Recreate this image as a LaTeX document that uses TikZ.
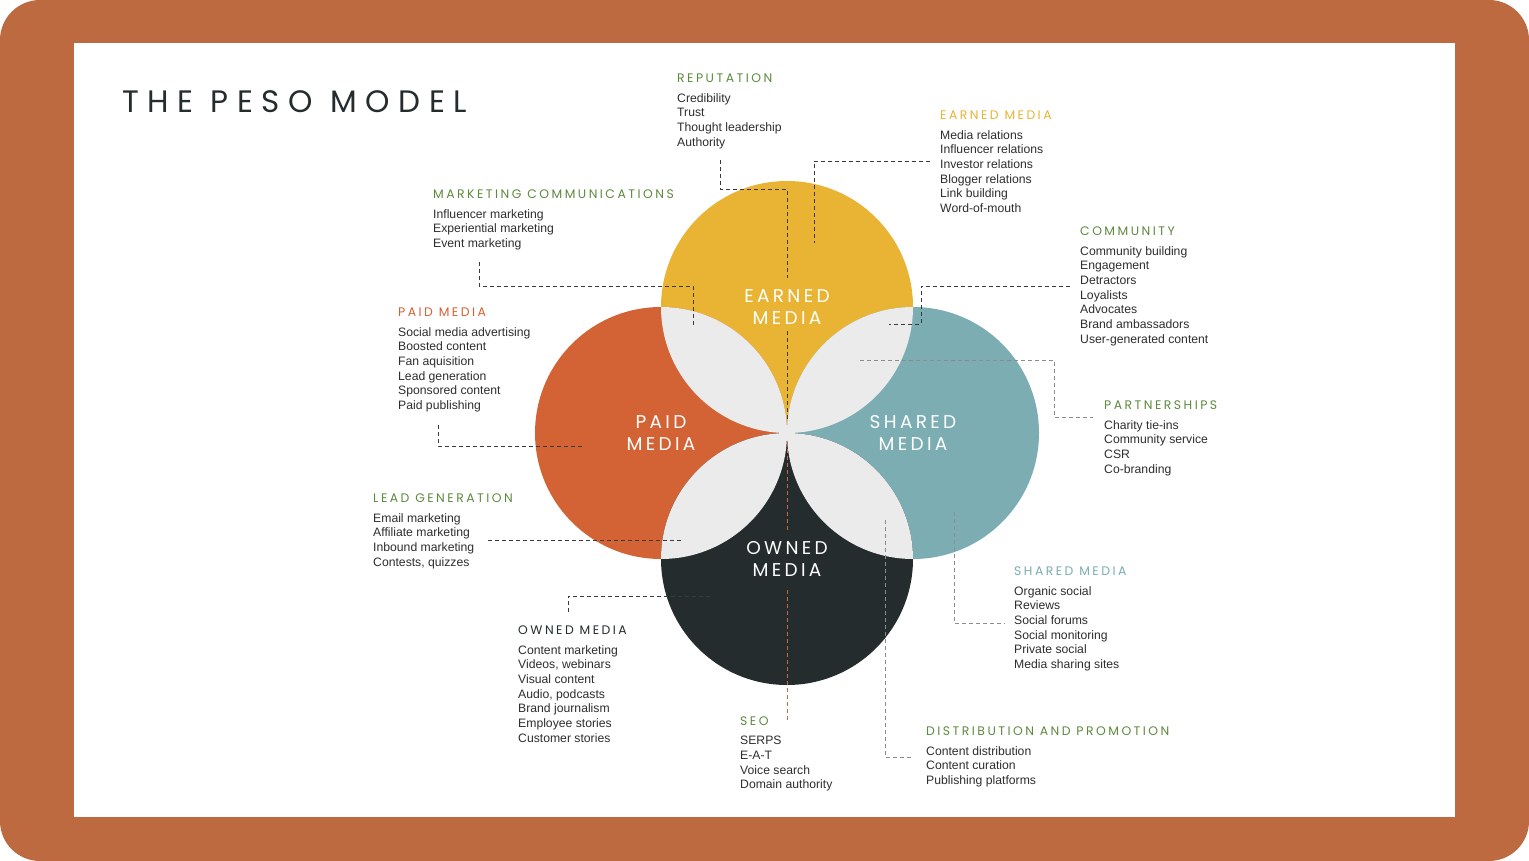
\documentclass[tikz,border=0pt]{standalone}
\usepackage{fontspec}
\setmainfont{Liberation Sans}
\newfontfamily\headfont[LetterSpace=20]{Poppins}
\newfontfamily\titlefont[LetterSpace=28]{Poppins}
\newfontfamily\labfont[LetterSpace=18]{Poppins}
\definecolor{frame}{HTML}{BD6A40}
\definecolor{earned}{HTML}{E9B334}
\definecolor{paid}{HTML}{D36234}
\definecolor{shared}{HTML}{7BADB3}
\definecolor{owned}{HTML}{252C2D}
\definecolor{lens}{HTML}{EBEBEB}
\definecolor{hgreen}{HTML}{5E8A3E}
\definecolor{body}{HTML}{2E2E2E}
\definecolor{darkline}{HTML}{3A3A3A}
\definecolor{lightline}{HTML}{8C8C8C}
\definecolor{seoline}{HTML}{C8683A}
\begin{document}
\begin{tikzpicture}[x=1pt,y=-1pt,
  hd/.style={anchor=north west,inner sep=0pt,font=\headfont\fontsize{12.4}{14}\selectfont,text=hgreen},
  items/.style={anchor=north west,inner sep=0pt,align=left,font=\fontsize{12.2}{14.7}\selectfont,text=body},
  clabel/.style={anchor=center,inner sep=0pt,align=center,font=\labfont\fontsize{18.5}{22}\selectfont,text=white},
  leader/.style={dash pattern=on 4pt off 3pt,line width=0.9pt,darkline},
  lleader/.style={dash pattern=on 4pt off 3pt,line width=0.9pt,lightline}]
\useasboundingbox (0,0) rectangle (1529,861);
\fill[white] (0,0) rectangle (1529,861);
\fill[frame,rounded corners=40pt] (0,0) rectangle (1529,861);
\fill[white] (74,43) rectangle (1455,817);

% circles
\coordinate (C) at (787,433);
\coordinate (E) at (787,307);
\coordinate (P) at (661,433);
\coordinate (S) at (913,433);
\coordinate (O) at (787,559);
\fill[earned] (E) circle[radius=126pt];
\fill[paid] (P) circle[radius=126pt];
\fill[shared] (S) circle[radius=126pt];
\fill[owned] (O) circle[radius=126pt];
\begin{scope}\clip (E) circle[radius=126pt]; \fill[lens] (P) circle[radius=126pt];\end{scope}
\begin{scope}\clip (E) circle[radius=126pt]; \fill[lens] (S) circle[radius=126pt];\end{scope}
\begin{scope}\clip (O) circle[radius=126pt]; \fill[lens] (P) circle[radius=126pt];\end{scope}
\begin{scope}\clip (O) circle[radius=126pt]; \fill[lens] (S) circle[radius=126pt];\end{scope}

% leader coordinates
\coordinate (rep1) at (720,160); \coordinate (rep2) at (720,189);
\coordinate (rep3) at (787,189); \coordinate (rep4) at (787,278);
\coordinate (rep5) at (787,331); \coordinate (rep6) at (787,420);
\coordinate (ea1) at (930,161); \coordinate (ea2) at (814,161); \coordinate (ea3) at (814,243);
\coordinate (mk1) at (479,262); \coordinate (mk2) at (479,286);
\coordinate (mk3) at (693,286); \coordinate (mk4) at (693,327);
\coordinate (pa1) at (438,425); \coordinate (pa2) at (438,446); \coordinate (pa3) at (583,446);
\coordinate (co1) at (1070,286); \coordinate (co2) at (921,286);
\coordinate (co3) at (921,324); \coordinate (co4) at (889,324);
\coordinate (pt1) at (860,360); \coordinate (pt2) at (1054,360);
\coordinate (pt3) at (1054,417); \coordinate (pt4) at (1093,417);
\coordinate (sh1) at (954,512); \coordinate (sh2) at (954,623); \coordinate (sh3) at (1005,623);
\coordinate (di1) at (885,520); \coordinate (di2) at (885,757); \coordinate (di3) at (912,757);
\coordinate (lg1) at (488,540); \coordinate (lg2) at (682,540);
\coordinate (ow1) at (568,612); \coordinate (ow2) at (568,596); \coordinate (ow3) at (713,596);
\coordinate (se1) at (787,720); \coordinate (se2) at (787,587);
\coordinate (se3) at (787,530); \coordinate (se4) at (787,440);

\draw[leader] (rep1) -- (rep2) -- (rep3) -- (rep4);
\draw[leader] (rep5) -- (rep6);
\draw[leader] (ea1) -- (ea2) -- (ea3);
\draw[leader] (mk1) -- (mk2) -- (mk3) -- (mk4);
\draw[leader] (pa1) -- (pa2) -- (pa3);
\draw[leader] (co1) -- (co2) -- (co3) -- (co4);
\draw[lleader] (pt1) -- (pt2) -- (pt3) -- (pt4);
\draw[lleader] (sh1) -- (sh2) -- (sh3);
\draw[lleader] (di1) -- (di2) -- (di3);
\draw[leader] (lg1) -- (lg2);
\draw[leader] (ow1) -- (ow2) -- (ow3);
\draw[leader,seoline] (se1) -- (se2);
\draw[leader,seoline] (se3) -- (se4);

% circle labels
\node[clabel] (lE) at (E) {EARNED\\MEDIA};
\node[clabel] (lP) at (P) {PAID\\MEDIA};
\node[clabel] (lS) at (S) {SHARED\\MEDIA};
\node[clabel] (lO) at (O) {OWNED\\MEDIA};

% title
\node[anchor=north west,inner sep=0pt,font=\titlefont\fontsize{31}{34}\selectfont,text=owned] (title) at (122,90) {THE PESO MODEL};

% headers and lists
\node[hd] (hRep) at (677,74) {REPUTATION};
\node[items] (iRep) at (677,93) {Credibility\\Trust\\Thought leadership\\Authority};

\node[hd,text=earned] (hEar) at (940,111) {EARNED MEDIA};
\node[items] (iEar) at (940,130) {Media relations\\Influencer relations\\Investor relations\\Blogger relations\\Link building\\Word-of-mouth};

\node[hd] (hMk) at (433,190) {MARKETING COMMUNICATIONS};
\node[items] (iMk) at (433,209) {Influencer marketing\\Experiential marketing\\Event marketing};

\node[hd] (hCo) at (1080,227) {COMMUNITY};
\node[items] (iCo) at (1080,246) {Community building\\Engagement\\Detractors\\Loyalists\\Advocates\\Brand ambassadors\\User-generated content};

\node[hd,text=paid] (hPa) at (398,308) {PAID MEDIA};
\node[items] (iPa) at (398,327) {Social media advertising\\Boosted content\\Fan aquisition\\Lead generation\\Sponsored content\\Paid publishing};

\node[hd] (hPt) at (1104,401) {PARTNERSHIPS};
\node[items] (iPt) at (1104,420) {Charity tie-ins\\Community service\\CSR\\Co-branding};

\node[hd] (hLg) at (373,494) {LEAD GENERATION};
\node[items] (iLg) at (373,513) {Email marketing\\Affiliate marketing\\Inbound marketing\\Contests, quizzes};

\node[hd,text=shared] (hSh) at (1014,567) {SHARED MEDIA};
\node[items] (iSh) at (1014,586) {Organic social\\Reviews\\Social forums\\Social monitoring\\Private social\\Media sharing sites};

\node[hd,text=owned] (hOw) at (518,626) {OWNED MEDIA};
\node[items] (iOw) at (518,645) {Content marketing\\Videos, webinars\\Visual content\\Audio, podcasts\\Brand journalism\\Employee stories\\Customer stories};

\node[hd] (hSe) at (740,717) {SEO};
\node[items] (iSe) at (740,736) {SERPS\\E-A-T\\Voice search\\Domain authority};

\node[hd] (hDi) at (926,727) {DISTRIBUTION AND PROMOTION};
\node[items] (iDi) at (926,746) {Content distribution\\Content curation\\Publishing platforms};
\end{tikzpicture}
\end{document}
